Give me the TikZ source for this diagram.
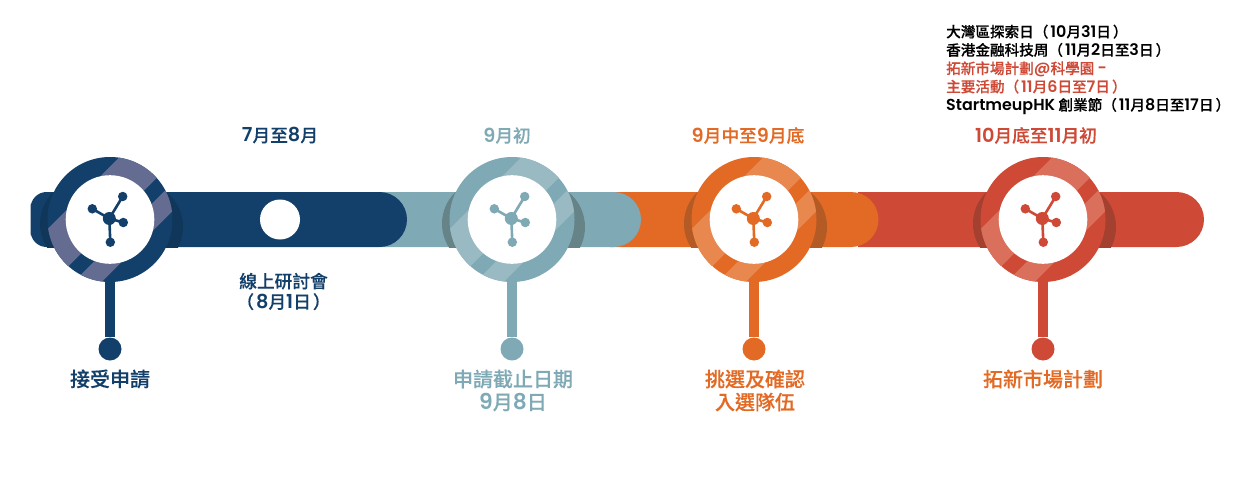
\documentclass[tikz,border=0pt]{standalone}
\usepackage{fontspec}
\setmainfont{Noto Sans CJK TC Medium}[FakeBold=0.25]
\newfontfamily\popfont{Poppins SemiBold}[Scale=1.09]
\newcommand\lat[1]{{\popfont #1}}
\newcommand\lpar{（\kern2pt}
\newcommand\rpar{\kern2pt）}
\definecolor{navy}{HTML}{13406A}
\definecolor{navyL}{HTML}{646D91}
\definecolor{navyD}{HTML}{10365A}
\definecolor{teal}{HTML}{7FAAB5}
\definecolor{tealL}{HTML}{9ABAC3}
\definecolor{tealD}{HTML}{668488}
\definecolor{orng}{HTML}{E26A25}
\definecolor{orngL}{HTML}{E8884F}
\definecolor{orngD}{HTML}{B35A25}
\definecolor{redd}{HTML}{CE4A37}
\definecolor{reddL}{HTML}{DA6F5C}
\definecolor{reddD}{HTML}{A34030}
\tikzset{
  x=1pt,y=-1pt,
  txtA/.style={font=\fontsize{17.7}{20.5}\selectfont,align=center,inner sep=0pt},
  txtB/.style={font=\fontsize{20}{23}\selectfont,align=center,inner sep=0pt},
  txtC/.style={font=\fontsize{14.6}{18.3}\selectfont,align=left,inner sep=0pt,text=black},
  ringdisc/.style={circle,inner sep=0pt,minimum size=125pt},
  enddot/.style={circle,inner sep=0pt,minimum size=23pt},
  hubdot/.style={circle,inner sep=0pt,minimum size=13pt},
  tipdot/.style={circle,inner sep=0pt,minimum size=9.5pt},
}
% #1 centre x, #2 dark colour: the two crescents behind a ring
\newcommand\crescents[2]{%
  \fill[#2] (#1-26,223.7) circle[radius=44];
  \fill[#2] (#1+28,227) circle[radius=45];
}
% #1 name, #2 centre x, #3 base, #4 light
\newcommand\ringmark[4]{%
  \node[enddot,fill=#3] (dot#1) at (#2,349) {};
  \node[ringdisc] (ring#1) at (#2,219.5) {};
  \draw[#3,line width=10pt] (ring#1.center) -- (dot#1);
  \fill[#3] (ring#1) circle[radius=62.5];
  \begin{scope}[shift={(#2,219.5)}]
    \clip (0,0) circle[radius=62.5];
    \fill[#4] (43.5,-96.5) -- (-96.5,43.5) -- (-67.5,72.5) -- (72.5,-67.5) -- cycle;
    \fill[#4] (83,-57) -- (-57,83) -- (-43,97) -- (97,-43) -- cycle;
  \end{scope}
  \fill[white] (ring#1) circle[radius=44.3];
  \begin{scope}[shift={(#2,219.5)}]
    \node[hubdot,fill=#3] (hub#1) at (-0.7,-1) {};
    \node[tipdot,fill=#3] (tipa#1) at (12.7,-23) {};
    \node[tipdot,fill=#3] (tipb#1) at (-17.7,-10.7) {};
    \node[tipdot,fill=#3] (tipc#1) at (13.3,3) {};
    \node[tipdot,fill=#3] (tipd#1) at (0.3,22.7) {};
    \draw[#3,line width=2.6pt] (hub#1.center) -- (tipa#1.center);
    \draw[#3,line width=2.6pt] (hub#1.center) -- (tipb#1.center);
    \draw[#3,line width=2.6pt] (hub#1.center) -- (tipc#1.center);
    \draw[#3,line width=2.6pt] (hub#1.center) -- (tipd#1.center);
  \end{scope}
}
\begin{document}
\begin{tikzpicture}
\useasboundingbox (0,0) rectangle (1258,477);
% bars, last one first
\fill[redd] (858,192) [rounded corners=27.5pt] -- (1204,192) -- (1204,247) [sharp corners] -- (858,247) -- cycle;
\fill[orng] (610,192) [rounded corners=27.5pt] -- (878.5,192) -- (878.5,247) [sharp corners] -- (610,247) -- cycle;
\fill[teal] (380,192) [rounded corners=27.5pt] -- (641,192) -- (641,247) [sharp corners] -- (380,247) -- cycle;
\fill[navy] [rounded corners=16pt] (30.6,219.5) -- (30.6,192) [rounded corners=27.5pt] -- (407,192) -- (407,247) [rounded corners=16pt] -- (30.6,247) -- cycle;
% crescents
\begin{scope}
  \clip (30,192) rectangle (1150,247);
  \crescents{110}{navyD}
  \crescents{512}{tealD}
  \crescents{754}{orngD}
  \crescents{1043}{reddD}
\end{scope}
\fill[white] (280,219.5) circle[radius=20];
\ringmark{1}{110}{navy}{navyL}
\ringmark{2}{512}{teal}{tealL}
\ringmark{3}{754}{orng}{orngL}
\ringmark{4}{1043}{redd}{reddL}
% top labels
\node[txtA,text=navy] (ta) at (280,135.5) {\lat{7}月至\lat{8}月};
\node[txtA,text=teal] (tb) at (507,135.5) {\lat{9}月初};
\node[txtA,text=orng] (tc) at (748,135.5) {\lat{9}月中至\lat{9}月底};
\node[txtA,text=redd] (td) at (1036,135.5) {\lat{10}月底至\lat{11}月初};
\node[txtA,text=navy] (web) at (283.5,291.5) {線上研討會\\\lpar\lat{8}月\lat{1}日\rpar};
% bottom labels
\node[txtB,text=navy] (ba) at (110,379) {接受申請};
\node[txtB,text=teal] (bb) at (513,390.5) {申請截止日期\\\lat{9}月\lat{8}日};
\node[txtB,text=orng] (bc) at (755,390.5) {挑選及確認\\入選隊伍};
\node[txtB,text=orng] (bd) at (1043,379) {拓新市場計劃};
% event list
\node[txtC,anchor=north west] (list) at (946,24.5) {大灣區探索日\lpar\lat{10}月\lat{31}日\rpar\\
香港金融科技周\lpar\lat{11}月\lat{2}日至\lat{3}日\rpar\\
\textcolor{redd}{拓新市場計劃\lat{@}科學園 \lat{-}}\\
\textcolor{redd}{主要活動\lpar\lat{11}月\lat{6}日至\lat{7}日\rpar}\\
\lat{StartmeupHK} 創業節\lpar\lat{11}月\lat{8}日至\lat{17}日\rpar};
\end{tikzpicture}
\end{document}
